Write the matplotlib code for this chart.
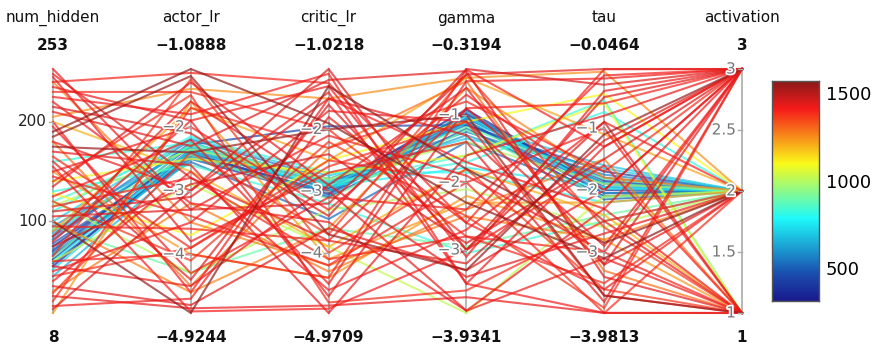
import numpy as np
import matplotlib
matplotlib.use("Agg")
import matplotlib.pyplot as plt
import matplotlib.patheffects as pe
from matplotlib.colors import LinearSegmentedColormap, Normalize

# dimension names and ranges
dims = ['num_hidden', 'actor_lr', 'critic_lr', 'gamma', 'tau', 'activation']
dim_min = [8, -4.9244, -4.9709, -3.9341, -3.9813, 1]
dim_max = [253, -1.0888, -1.0218, -0.3194, -0.0464, 3]
min_labels = ['8', '−4.9244', '−4.9709', '−3.9341', '−3.9813', '1']
max_labels = ['253', '−1.0888', '−1.0218', '−0.3194', '−0.0464', '3']
dim_ticks = [[100, 200], [-2, -3, -4], [-2, -3, -4], [-1, -2, -3], [-1, -2, -3],
             [1, 1.5, 2, 2.5, 3]]
dim_ticklabels = [['100', '200'], ['−2', '−3', '−4'], ['−2', '−3', '−4'],
                  ['−1', '−2', '−3'], ['−1', '−2', '−3'], ['1', '1.5', '2', '2.5', '3']]

# one row per run: num_hidden, actor_lr, critic_lr, gamma, tau, activation
num_hidden = [62, 70, 75, 58, 82, 66, 90, 55, 78, 85, 95, 100, 72, 60, 110, 160, 88, 68, 52, 120,
              64, 92, 45, 130, 95, 120,
              140, 115, 60, 128,
              205, 90, 30, 150, 200, 100, 8, 180, 240,
              253, 248, 240, 235, 225, 230, 215, 190, 180, 170, 165, 160, 150, 145, 135, 125,
              120, 110, 100, 95, 85, 75, 65, 50, 40, 35, 25, 20, 15, 12, 28, 210, 195, 220,
              245, 60, 140, 175, 105, 80, 45, 200, 185, 115, 55, 155]
actor_lr = [-2.35, -2.30, -2.40, -2.45, -2.25, -2.50, -2.20, -2.38, -2.42, -2.28, -2.32, -2.18,
            -2.55, -2.36, -2.15, -2.25, -2.30, -2.46, -2.40, -2.30,
            -2.27, -2.44, -2.50, -2.60, -4.29, -4.30,
            -2.50, -2.35, -2.90, -3.70,
            -1.40, -1.70, -3.20, -4.00, -2.70, -4.60, -1.60, -4.50, -3.50,
            -3.30, -2.80, -1.15, -1.90, -1.80, -1.45, -2.10, -1.0888, -3.00, -2.60, -3.90,
            -4.40, -2.00, -3.40, -1.30, -2.20,
            -4.10, -3.10, -4.9244, -3.60, -1.60, -2.90, -1.25, -3.50, -2.70, -4.80, -4.85,
            -1.70, -4.70, -3.00, -2.40, -2.30, -4.30, -3.20,
            -3.80, -4.00, -1.50, -2.40, -3.30, -1.90, -3.90, -4.60, -1.20, -2.80, -4.50, -4.90]
critic_lr = [-2.95, -2.90, -3.05, -3.00, -2.85, -3.10, -2.80, -2.95, -3.02, -1.95, -2.88, -2.75,
             -3.45, -2.92, -2.70, -2.85, -2.98, -3.08, -2.93, -2.90,
             -2.83, -3.12, -3.00, -3.20, -3.60, -3.30,
             -2.70, -2.80, -3.90, -2.50,
             -1.50, -2.50, -4.30, -4.40, -3.90, -3.60, -4.10, -2.30, -4.20,
             -2.10, -3.80, -1.25, -4.70, -1.10, -2.00, -3.40, -1.90, -1.40, -4.9709, -2.60,
             -1.60, -3.30, -4.20, -2.90, -4.50,
             -2.20, -1.50, -1.30, -3.80, -3.00, -2.40, -4.00, -1.70, -4.60, -3.60, -4.85,
             -2.30, -1.80, -1.0218, -3.70, -1.20, -3.10, -3.50,
             -2.70, -4.40, -4.80, -2.00, -3.20, -1.30, -2.50, -1.50, -3.70, -4.10, -2.90, -4.90]
gamma = [-1.05, -1.00, -1.10, -0.98, -1.15, -1.20, -1.25, -0.92, -1.08, -1.15, -1.30, -1.35,
         -1.40, -1.78, -1.85, -1.70, -1.12, -0.95, -1.02, -1.60,
         -1.18, -1.22, -1.05, -3.05, -2.95, -2.10,
         -1.60, -1.40, -3.9341, -1.10,
         -0.45, -0.45, -2.40, -2.20, -1.80, -0.60, -2.30, -0.50, -2.50,
         -1.90, -3.20, -2.60, -0.90, -3.50, -2.80, -0.3194, -2.30, -3.50, -1.60, -1.10,
         -3.00, -0.70, -2.00, -3.40, -0.50,
         -2.50, -1.30, -1.80, -0.90, -3.90, -2.90, -1.80, -1.10, -2.70, -3.30, -3.70,
         -0.80, -2.60, -3.00, -0.40, -0.35, -2.40, -3.90,
         -1.40, -0.33, -3.60, -1.00, -0.40, -3.10, -2.00, -1.70, -3.30, -2.80, -0.60, -3.00]
tau = [-1.85, -1.95, -2.05, -1.90, -1.80, -2.10, -1.75, -2.00, -2.15, -1.70, -1.88, -1.65,
       -2.10, -1.95, -2.20, -0.74, -1.60, -2.05, -1.98, -0.55,
       -1.82, -2.12, -1.90, -2.50, -2.40, -2.60,
       -0.60, -1.90, -2.10, -0.45,
       -0.09, -1.10, -1.50, -2.80, -2.40, -1.80, -2.20, -3.30, -2.80,
       -3.00, -1.20, -0.05, -2.50, -3.98, -3.50, -0.30, -3.10, -1.30, -0.80, -3.70,
       -0.50, -2.00, -1.00, -2.70, -0.20,
       -3.90, -3.20, -2.85, -0.60, -2.30, -1.50, -3.60, -2.90, -0.90, -2.00, -3.98,
       -1.70, -3.60, -0.90, -2.60, -3.40, -0.15, -3.10,
       -3.80, -1.30, -2.50, -3.70, -0.0464, -0.40, -3.9813, -2.30, -1.10, -3.00, -3.20, -1.60]
activation = [2, 2, 2, 2, 2, 2, 2, 2, 2, 2, 2, 2, 2, 2, 2, 2, 2, 2, 2, 1,
              2, 2, 2, 2, 2, 2,
              1, 2, 2, 2,
              2, 2, 1, 1, 1, 2, 2, 1, 2,
              3, 3, 3, 1, 1, 2, 3, 2, 3, 3, 1, 3, 3, 1, 2, 3,
              3, 3, 2, 3, 1, 3, 1, 3, 2, 3, 1, 3, 2, 1, 1, 1, 3, 1,
              3, 3, 2, 1, 3, 3, 2, 3, 3, 1, 2, 1]
score = [380, 420, 350, 460, 510, 400, 560, 330, 480, 440, 620, 700, 520, 760, 800, 820, 680, 600,
         720, 850,
         880, 900, 650, 830, 900, 1000,
         1080, 980, 1020, 1100,
         1250, 1220, 1280, 1240, 1200, 1260, 1240, 1290, 1270,
         1420, 1440, 1400, 1430, 1410, 1390, 1450, 1565, 1420, 1430, 1390, 1440, 1410, 1400,
         1430, 1420,
         1380, 1440, 1560, 1400, 1430, 1450, 1370, 1420, 1410, 1440, 1430, 1390, 1420, 1450,
         1370, 1440, 1410, 1420,
         1430, 1400, 1390, 1540, 1440, 1420, 1390, 1410, 1550, 1400, 1430, 1410]

data = np.array([num_hidden, actor_lr, critic_lr, gamma, tau, activation], dtype=float).T
score = np.array(score, dtype=float)

# plotly "Jet", slightly washed out like the reference
jet_stops = [(0.0, (0, 0, 131)), (0.125, (0, 60, 170)), (0.375, (5, 255, 255)),
             (0.625, (255, 255, 0)), (0.875, (250, 0, 0)), (1.0, (128, 0, 0))]
wash = 0.12
jet = LinearSegmentedColormap.from_list(
    'pjet', [(p, tuple((1 - wash) * c / 255 + wash * 0.85 for c in rgb)) for p, rgb in jet_stops])
norm = Normalize(vmin=310, vmax=1570)

W, H = 877, 351
fig = plt.figure(figsize=(W / 100, H / 100), dpi=100)

x0, x1 = 53, 742
ytop, ybot = 69, 313
ax = fig.add_axes([x0 / W, (H - ybot) / H, (x1 - x0) / W, (ybot - ytop) / H])
ax.set_xlim(0, 5)
ax.set_ylim(0, 1)
ax.axis('off')

lo = np.array(dim_min)
hi = np.array(dim_max)
normed = (data - lo) / (hi - lo)
xs = np.arange(len(dims))

order = np.argsort(score)
for i in order:
    ax.plot(xs, normed[i], color=jet(norm(score[i])), lw=1.5, alpha=0.7,
            solid_joinstyle='miter', zorder=2, clip_on=False)

halo = [pe.withStroke(linewidth=2.5, foreground='white')]
for k, name in enumerate(dims):
    ax.plot([k, k], [0, 1], color='#aaaaaa', lw=1.2, zorder=1, clip_on=False)
    for t, lab in zip(dim_ticks[k], dim_ticklabels[k]):
        yv = (t - lo[k]) / (hi[k] - lo[k])
        ax.plot([k - 0.03, k], [yv, yv], color='#aaaaaa', lw=1, zorder=3, clip_on=False)
        col = '#222222' if k == 0 else '#777777'
        ax.text(k - 0.045, yv, lab, ha='right', va='center', fontsize=11, color=col,
                path_effects=halo if k > 0 else None, zorder=4)
    xf = (x0 + k * (x1 - x0) / 5) / W
    fig.text(xf, 1 - 18 / H, name, ha='center', va='center', fontsize=11, color='#111111')
    fig.text(xf, 1 - 46 / H, max_labels[k], ha='center', va='center', fontsize=11,
             color='#111111', fontweight='semibold')
    fig.text(xf, 1 - 338 / H, min_labels[k], ha='center', va='center', fontsize=11,
             color='#111111', fontweight='semibold')

# colorbar
cax = fig.add_axes([772 / W, (H - 301) / H, 47 / W, 220 / H])
grad = np.linspace(310, 1570, 256).reshape(-1, 1)
cax.imshow(grad, aspect='auto', origin='lower', cmap=jet, norm=norm,
           extent=[0, 1, 310, 1570])
cax.set_xticks([])
cax.yaxis.tick_right()
cax.set_yticks([500, 1000, 1500])
cax.set_yticklabels(['500', '1000', '1500'], fontsize=13)
cax.tick_params(axis='y', length=0, pad=5)
for s in cax.spines.values():
    s.set_color('#555555')
    s.set_linewidth(1)

fig.savefig('out.png', dpi=100)
